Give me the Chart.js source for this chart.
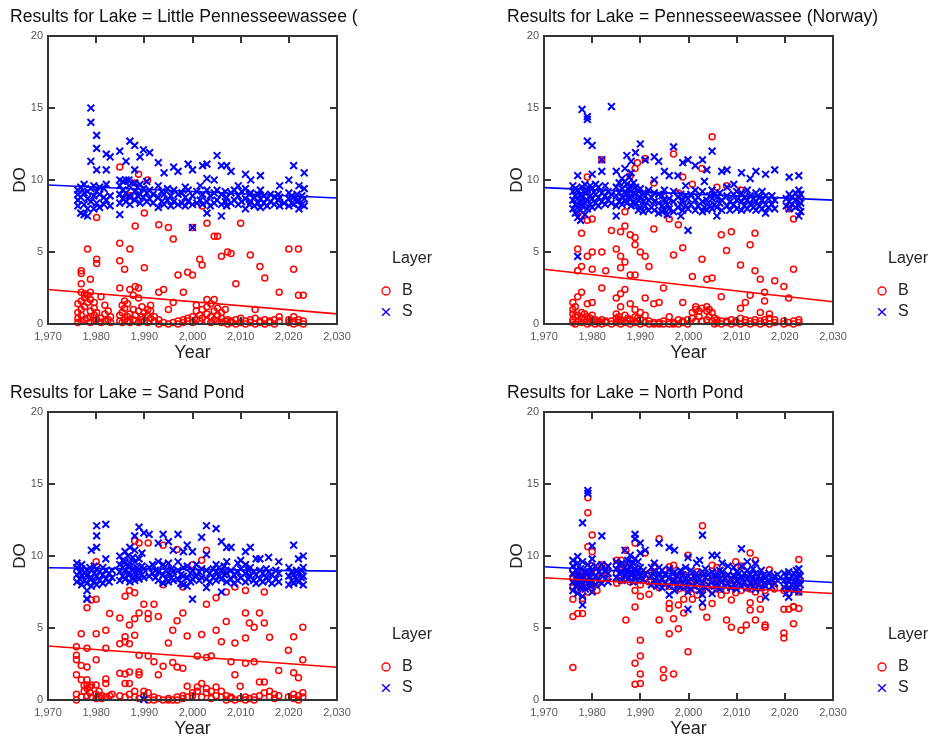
<!DOCTYPE html>
<html><head><meta charset="utf-8">
<script src="https://cdn.jsdelivr.net/npm/chart.js@4.4.1/dist/chart.umd.min.js"></script>
<style>
html,body{margin:0;padding:0;background:#fff;}
#wrap{position:relative;width:930px;height:738px;overflow:hidden;background:#fff;}
canvas{position:absolute;}
</style></head><body>
<div id="wrap">
<canvas id="c0" width="465" height="376" style="left:0;top:0;width:465px;height:376px"></canvas>
<canvas id="c1" width="465" height="376" style="left:465px;top:0;width:465px;height:376px"></canvas>
<canvas id="c2" width="465" height="364" style="left:0;top:376px;width:465px;height:364px"></canvas>
<canvas id="c3" width="465" height="364" style="left:465px;top:376px;width:465px;height:364px"></canvas>
</div>
<script>
// ---------- DATA ----------
const lakes = ["Little Pennesseewassee (", "Pennesseewassee (Norway)", "Sand Pond", "North Pond"];
const layers = ["B", "S"];
const yearTicks = [1970, 1980, 1990, 2000, 2010, 2020, 2030];
const doTicks = [0, 5, 10, 15, 20];
// trend line values at [1970, 2030]
const trendYears = [1970, 2030];
const trendB = [[2.4, 0.7], [3.8, 1.55], [3.75, 2.27], [8.49, 7.4]];
const trendS = [[9.65, 8.75], [9.47, 8.6], [9.18, 8.95], [9.25, 8.16]];

// each group: [year, DO, DO, ...]
const S_LittlePenn = [
[1976.2,8.6,9.0,9.3,8.2],[1976.8,7.7,8.8,9.5],[1977.5,7.6,8.3,9.1,9.7],[1978.2,7.5,8.0,8.7,9.2],
[1978.9,8.5,9.4,11.3,14.0,15.0],[1979.5,8.0,8.9,9.6],[1980.1,8.4,9.2,10.7,12.2,13.1],[1980.7,8.1,9.0,9.5],
[1981.6,8.3,8.8,9.4],[1982.1,8.6,9.7,10.7,11.8],[1982.9,8.2,8.9,11.6],[1984.9,7.6,8.4,9.0,9.6,10.0,12.0],
[1985.5,8.7,9.3,9.9],[1986.2,8.5,9.1,10.0,11.3],[1986.8,8.9,9.6,10.0],[1987.0,8.3,8.8,12.7],
[1988.0,8.6,9.2,9.8,10.7,12.4],[1988.6,8.9,9.5],[1989.1,8.4,9.0,9.7,11.6],[1989.8,8.8,9.4,12.1],
[1990.5,8.5,9.1,9.9],[1991.1,8.7,9.3,11.9],[1991.8,8.4,9.0],[1992.9,8.1,8.8,9.6,11.2],[1993.6,8.5,9.2],
[1994.1,8.3,9.0,10.5],[1994.8,8.6,9.4],[1995.5,8.2,8.9],[1996.1,8.5,9.3,10.9],[1997.0,8.3,9.0,10.6],
[1997.8,8.4,9.1],[1998.5,8.2,8.8,9.5],[1999.1,8.5,9.3,11.1],[2000.0,6.7,8.3,8.9,10.7],[2000.9,8.4,9.2],
[2001.6,8.6,9.6],[2002.1,8.3,9.0,11.0],[2003.0,7.7,8.5,9.3,10.1,11.1],[2003.7,8.2,8.9],[2004.5,8.4,9.1,10.0],
[2005.1,8.6,9.3,11.7],[2006.0,7.5,8.3,9.0,11.0],[2006.8,8.5,9.2],[2007.1,8.2,8.8,11.0],[2008.0,8.4,9.1,10.6],
[2008.7,8.6,9.3],[2009.5,8.3,8.9,9.6],[2010.2,8.5,9.2],[2011.0,8.0,8.7,9.4,10.4],[2011.8,8.3,9.0],
[2012.1,8.5,9.1,10.0],[2012.8,8.2,8.8],[2013.6,8.4,9.0],[2014.1,8.1,8.7,9.3,10.3],[2014.8,8.4,8.9],
[2015.5,8.2,8.7],[2016.2,8.5,9.0],[2017.0,8.3,8.8],[2017.8,8.6,9.0],[2018.1,8.2,8.8,9.6],[2019.0,8.4],
[2020.0,8.2,8.7,9.1,10.0],[2020.6,8.4,8.9],[2021.0,8.3,8.8,11.0],[2021.7,8.5,9.0],[2022.1,8.0,8.6,9.6],
[2022.7,8.3,8.9],[2023.2,8.2,8.7,9.4,10.5]
];
const B_LittlePenn = [
[1976.2,0.1,0.4,0.8,1.4],[1976.9,0.2,0.6,1.0,1.6,2.2,2.8,3.5,3.7],[1977.6,0.3,1.2,1.8,2.1],[1978.2,0.4,1.5,2.0,5.2],
[1978.8,0.1,0.5,0.9,1.7,2.2,3.1],[1979.6,0.2,0.6,1.1,1.5],[1980.1,0.3,0.8,4.2,4.5,7.4],[1981.0,0.1,0.4,1.9],
[1981.8,0.2,0.7,1.3],[1982.5,0.3,0.9],[1983.0,0.1,0.5],[1984.9,0.2,0.6,2.5,4.4,5.6,10.9],[1985.4,0.1,0.8,1.3],
[1985.9,0.3,1.1,1.6,3.8],[1986.5,0.2,0.5,1.4],[1987.0,0.1,0.7,2.4,5.2,8.9],[1987.7,0.3,1.0,2.0],
[1988.1,0.2,0.6,2.6,6.8,9.8],[1988.8,0.1,0.9,1.8,2.5,10.4],[1989.5,0.3,0.5,1.2],[1990.0,0.2,0.8,3.9,7.7],
[1990.7,0.1,0.6,1.0,10.0],[1991.3,0.4,0.9,1.3],[1992.1,0.2,0.5],[1993.0,0.0,0.3,2.2,6.9],[1994.0,0.1,2.4],
[1995.0,0.0,1.0,6.7],[1996.0,0.1,1.5,5.9],[1997.0,0.0,0.2,3.4],[1998.1,0.1,0.3,2.2],[1999.0,0.2,0.4,3.6],
[2000.0,0.1,0.5,3.4,6.7],[2000.8,0.3,0.9,1.3],[2001.5,0.2,0.6,4.5],[2002.0,0.4,1.0,4.1,8.2],
[2003.0,0.2,0.7,1.2,1.7,7.0],[2003.8,0.1,0.5,1.4],[2004.5,0.3,0.9,1.7,6.1],[2005.2,0.2,0.6,1.1,6.1],
[2006.0,0.1,0.4,0.8,4.7],[2006.8,0.2,1.0],[2007.3,0.0,0.3,5.0],[2008.0,0.1,0.2,4.9],[2009.0,0.0,0.3,2.8],
[2010.0,0.1,0.4,7.0],[2011.0,0.0,0.2],[2012.0,0.1,0.3,4.8],[2013.0,0.0,0.4,1.0],[2014.0,0.1,0.2,4.0],
[2015.0,0.0,0.3,3.2],[2016.0,0.1,0.2],[2017.0,0.0,0.3],[2018.0,0.2,0.5,2.2],[2020.0,0.1,0.3,5.2],
[2021.0,0.0,0.2,0.5,3.8],[2022.0,0.1,0.3,2.0,5.2],[2023.0,0.0,0.2,2.0]
];
const S_Norway = [
[1976.0,8.0,8.6,9.2,9.6],[1976.5,7.7,8.3,8.9,9.4],[1977.0,4.7,7.4,8.1,8.7,9.3,10.3],[1977.6,7.2,7.9,8.5,9.0],
[1977.9,8.2,8.8,9.5,14.9],[1978.5,7.6,8.4,9.1,9.7],[1979.0,8.0,8.6,9.3,12.7,14.2,14.4],[1979.6,8.3,8.9,9.6],
[1980.0,8.1,8.7,9.4,10.4,12.4],[1980.7,8.4,9.0,9.7],[1981.3,8.2,8.8,9.5],[1982.0,8.5,9.1,10.6,11.4],
[1982.7,8.3,8.9,9.6],[1983.3,8.6,9.2],[1984.0,8.4,9.0,15.1],[1985.0,7.5,8.2,8.9,9.5,10.6],[1985.6,8.5,9.1,9.8],
[1986.2,8.3,8.8,9.4,10.1],[1986.8,8.6,9.2,9.9,10.8],[1987.2,8.4,9.0,9.7,11.7],[1987.7,8.7,9.3,10.2],
[1988.1,8.2,8.9,9.6,10.5,11.3],[1988.6,8.5,9.1,9.8],[1989.0,8.3,9.0,9.5,11.9],[1989.6,7.9,8.6,9.2],
[1990.0,8.1,8.8,9.4,12.5],[1990.6,7.8,8.5,9.1],[1991.0,8.2,8.9,11.4],[1991.7,7.9,8.6,9.3],[1992.3,8.1,8.8],
[1992.9,7.9,8.5,9.1,10.0,11.6],[1993.8,7.7,8.4,9.0,11.3],[1994.5,7.8,8.2,8.9],[1995.0,7.9,8.6,9.3,10.6],
[1995.6,7.6,8.3],[1996.0,8.0,8.7,10.3],[1996.9,7.8,8.5,9.2,12.3],[1997.8,8.1,8.8,10.3],[1998.4,7.5,8.3,9.0],
[1998.8,7.9,8.6,11.2],[1999.4,8.2,8.9,9.6],[1999.9,6.5,8.0,8.7,11.4],[2000.5,8.3,9.0],[2001.4,7.9,8.6,9.3,11.0],
[2002.0,8.2,8.8],[2002.9,7.8,8.5,9.2,11.4],[2003.3,8.1,9.9],[2003.8,7.9,8.6,10.7],[2004.4,8.2,8.9],
[2004.9,8.0,8.7,9.3,12.0],[2005.4,8.3,9.0],[2005.9,7.5,8.1,8.8],[2006.5,8.4,9.1],[2006.9,7.9,8.6,10.6],
[2008.0,8.2,8.9,9.5,10.7],[2008.6,7.9,8.5],[2009.4,8.3,9.0,9.7],[2010.0,8.0,8.6,9.2],[2011.0,7.9,8.5,9.1,10.5],
[2011.6,8.2,8.8],[2012.2,8.0,8.6,9.3],[2012.8,8.3,8.9,10.1],[2013.5,8.1,8.7],[2014.0,7.9,8.5,9.1,10.6],
[2014.7,8.2,8.8],[2015.3,8.0,8.6,9.2],[2016.0,7.7,8.3,8.9,10.4],[2016.6,8.1,8.7],[2017.3,8.3,8.9],
[2017.9,8.0,8.6,10.7],[2020.3,8.2,8.7],[2020.9,8.0,8.5,9.0,10.2],[2021.5,8.3,8.8],[2022.2,8.1,8.6,9.1],
[2022.9,7.5,8.2,8.8,9.3,10.3],[2023.3,7.8,8.4,9.0]
];
const B_Norway = [
[1976.0,0.1,0.3,0.7,1.0,1.5],[1976.5,0.0,0.5,1.2],[1977.0,0.2,0.6,1.9,3.7,5.2],[1977.8,0.1,0.4,0.8,2.2,4.0,6.3,7.5],
[1978.4,0.3,0.7],[1979.0,0.0,0.2,0.5,1.4,4.7,7.2,10.2],[1979.6,0.1,0.4],[1980.0,0.2,0.6,1.5,3.8,5.0,7.3],
[1980.6,0.0,0.3],[1981.3,0.1,0.2],[1982.0,0.0,0.3,2.5,5.0,11.4],[1982.8,0.1,0.2,3.7],[1984.0,0.0,0.2,6.5],
[1985.0,0.1,0.4,0.7,1.8,5.2],[1985.5,0.2,0.5],[1985.9,0.0,0.3,1.2,2.1,3.9,4.7,6.4],[1986.8,0.1,0.6,2.4,4.3,6.8,7.8],
[1987.4,0.2,0.4],[1987.9,0.0,0.3,1.4,3.4,6.2,10.3],[1988.9,0.1,0.5,1.0,3.4,5.5,6.0,10.8],[1989.4,0.2,0.4,11.2],
[1990.0,0.0,0.3,0.8,5.0],[1991.0,0.1,0.6,1.8,4.7,11.5],[1991.8,0.0,0.2,4.0],[1992.8,0.0,0.1,1.4,6.6,9.8],
[1993.9,0.0,0.1,1.5],[1994.8,0.0,0.2,2.5,8.9],[1996.0,0.0,0.5,7.3],[1996.9,0.0,0.1,4.8,11.8],[1997.9,0.0,0.3,6.9,9.1],
[1998.8,0.1,0.2,1.5,5.3,10.2],[1999.8,0.0,0.3],[2000.8,0.4,0.8,3.3,9.7],[2001.5,0.2,1.0,1.2],[2002.2,0.5,0.9],
[2002.8,0.2,1.1,4.5,10.8],[2003.8,0.3,0.9,1.2,3.1],[2004.3,0.5,1.0],[2004.9,0.2,0.8,3.2,13.0],[2005.4,0.0,0.4],
[2005.9,0.1,0.3,9.5],[2006.8,0.0,0.2,1.9,6.2],[2007.9,0.1,0.2,5.1,9.6],[2008.9,0.0,0.3,6.4],[2009.8,0.1,0.2],
[2010.8,0.0,0.4,1.1,4.1,9.3],[2011.8,0.1,0.3,1.5],[2012.8,0.0,0.2,2.0,5.5],[2013.8,0.1,0.3,3.7,6.3],
[2014.9,0.0,0.2,0.8,3.1],[2015.8,0.1,0.3,1.6,2.2],[2016.8,0.0,0.4,0.7],[2017.9,0.1,0.3,3.0],[2019.8,0.0,0.2,2.6],
[2020.8,0.1,1.8,8.0],[2021.8,0.0,0.2,3.8,7.3],[2022.9,0.1,0.3,9.0]
];
const S_Sand = [
[1976.0,8.2,8.7,9.2,9.5],[1976.6,8.4,8.9],[1977.0,8.0,8.6,9.1,9.4],[1977.6,8.3,8.8],[1978.1,7.0,7.05,7.6,8.1,8.7,9.0],
[1978.7,8.4,9.2],[1979.0,7.9,8.5,9.0,10.4],[1979.6,8.2,8.8,9.3],[1980.1,8.0,8.6,9.1,10.6,11.4,12.1],[1980.7,8.3,8.9],
[1981.4,8.1,8.7,9.2],[1982.0,8.4,9.0,9.8,12.2],[1982.7,8.2,8.8],[1983.3,8.5,9.0],[1984.9,8.3,8.9,9.4,10.0],
[1985.5,8.6,9.2,9.7],[1986.0,8.4,9.0,9.6,10.3],[1986.6,8.7,9.3,10.0],[1987.0,8.2,8.8,9.5,10.6],[1987.6,8.5,9.1,9.9],
[1988.0,8.3,8.9,9.6,10.4,11.4],[1988.5,8.6,9.2],[1988.9,8.4,9.0,9.8,12.0],[1989.5,8.7,9.3,10.2],[1989.9,0.05,8.5,9.1,11.6],
[1991.0,8.6,9.2,11.5],[1991.7,8.8,9.4],[1992.3,8.5,9.0],[1992.9,8.3,8.9,9.6,10.9],[1993.9,8.1,8.7,9.4,11.5],
[1994.5,8.4,9.0],[1995.0,8.2,8.8,9.5,11.0],[1995.6,8.5,9.1],[1996.0,8.3,8.9,10.4],[1997.0,8.4,9.0,9.6,11.5],
[1997.6,8.1,8.7],[1998.1,8.0,8.6,9.2,10.3],[1998.9,7.9,8.5,9.3,10.75],[1999.6,8.2,8.8],[2000.0,7.0,8.4,9.0,10.3],
[2000.8,8.6,9.4],[2001.4,8.3,8.9],[2001.9,8.5,9.1,11.3],[2002.9,7.8,8.4,9.0,10.1,12.1],[2003.6,8.2,8.8],
[2004.3,8.5,9.1],[2004.9,8.3,8.9,9.4,11.9],[2005.5,8.6,9.2],[2006.0,7.5,8.4,9.0,11.0],[2006.6,8.7,9.3],
[2007.1,8.2,8.8,9.6,10.6],[2008.0,8.4,9.0,10.6],[2008.6,8.1,8.7],[2009.4,8.3,8.9,9.5],[2010.0,8.5,9.1,9.7],
[2011.0,8.2,8.8,9.4,10.3],[2011.6,8.4,9.0],[2012.0,8.6,9.2,10.6],[2012.7,8.3,8.9],[2013.2,8.1,8.7,9.8],
[2014.0,8.4,9.0,9.8],[2014.6,8.2,8.8],[2015.3,8.5,9.1],[2015.8,8.3,8.9,9.9],[2016.5,8.1,8.7],[2017.3,8.4,9.0],
[2017.9,8.2,8.8,9.6],[2020.0,8.0,8.6,9.2],[2020.6,8.3,8.9],[2021.0,8.1,8.7,10.75],[2021.6,8.4,9.0],
[2022.0,8.2,8.8,9.8],[2022.6,8.5,9.0],[2023.0,8.0,8.6,9.2,10.0]
];
const B_Sand = [
[1975.9,0.0,0.4,1.75,2.8,3.1,3.7],[1976.9,0.2,1.4,2.4,4.6],[1977.5,0.6,1.0],[1978.1,0.3,0.8,1.05,1.4,2.3,3.6,6.4],
[1978.7,0.5,0.9],[1979.0,0.2,1.05,6.95],[1980.0,0.1,0.4,1.05,2.8,4.6,7.0,9.6],[1980.6,0.2,0.6],[1981.2,0.1,0.3],
[1982.0,0.2,1.15,1.45,3.6,4.85],[1982.8,0.3,6.0],[1983.3,0.4],[1984.9,0.3,1.85,3.9,5.7],
[1986.0,0.2,1.15,1.8,4.05,4.4,7.2],[1986.9,0.4,1.15,1.95,3.9,5.2,7.6],[1988.0,0.2,0.6,4.5,5.65,7.45,11.05],
[1988.9,0.1,1.75,1.95,3.1,6.05,10.9],[1989.9,0.3,0.6,6.65],[1990.8,0.0,0.5,3.05,5.65,6.0,10.9],
[1992.0,0.0,0.2,2.65,6.65],[1992.9,0.1,1.75,5.8],[1993.9,0.0,2.35,8.0,10.75],[1995.0,0.0,0.1,3.95],
[1995.9,0.0,2.6,4.85],[1996.8,0.0,0.2,2.3,5.5,10.45],[1998.0,0.1,0.3,2.2,6.05,7.85],[1998.9,0.2,0.95,4.45],
[2000.0,0.3,0.5,9.4],[2001.0,0.6,0.9,3.05],[2001.9,0.2,1.15,4.55,9.7],[2002.9,0.5,0.8,2.95,6.65,10.4],
[2003.9,0.1,0.6,3.05],[2004.9,0.3,0.9,4.85,7.1],[2006.0,0.2,0.6,4.05],[2007.0,0.0,0.3,5.45,7.5],
[2008.0,0.1,0.2,2.65],[2008.8,0.0,1.75,3.95,7.85],[2009.9,0.1,0.95],[2011.0,0.0,0.2,2.55,4.3,6.05,7.6],
[2011.8,0.1,5.35],[2012.8,0.0,0.2,2.65,5.05],[2013.9,0.3,1.25,6.05],[2014.9,0.5,1.25,5.35,7.5],
[2016.0,0.2,0.6,4.35],[2017.0,0.1,0.4],[2017.9,0.3,2.05],[2019.9,0.2,3.45],[2021.0,0.1,0.4,1.9,4.4],
[2022.0,0.0,0.3,1.55],[2022.9,0.2,0.5,2.8,5.05]
];
const S_North = [
[1976.0,7.6,8.2,8.8,9.3,9.7],[1976.6,7.9,8.5,9.0],[1977.0,7.4,8.1,8.7,9.5,9.95],[1977.6,7.8,8.4,9.1],
[1978.0,6.6,7.2,8.0,8.6,9.6,12.3],[1978.6,7.7,8.3,8.9],[1979.1,8.1,8.8,9.4,14.35,14.55],[1979.6,7.9,8.5,9.2],
[1980.0,7.5,8.2,8.9,9.8,10.7],[1980.7,8.0,8.6,9.3],[1981.4,8.3,8.9],[1982.0,8.1,8.7,9.4,11.4],[1982.7,8.4,9.0],
[1983.3,8.2,8.8,9.3],[1985.0,8.5,9.1,9.6],[1985.6,8.8,9.4],[1986.2,8.3,8.9,9.5],[1986.8,8.6,9.2,10.4],
[1987.4,8.4,9.0,9.7],[1987.9,8.7,9.3,10.05],[1988.5,8.2,8.8,9.5],[1988.9,8.5,9.1,9.8,11.2,11.5],[1989.5,8.3,8.9,9.6],
[1990.0,8.6,9.2,10.2,10.9],[1990.6,8.4,9.0],[1991.0,8.7,10.4],[1992.3,8.0,8.6,9.2],[1992.9,8.3,8.9,9.5],
[1993.4,7.9,8.5],[1993.9,8.2,8.8,9.2,10.9],[1994.5,7.8,8.4,9.0],[1995.1,8.1,8.7],[1996.0,7.3,7.9,8.5,9.1,10.6],
[1996.6,8.2,8.8],[1997.1,7.6,8.3,8.9,10.4],[1997.7,8.0,8.6],[1998.3,7.8,8.4,9.0],[1998.8,8.1,8.7],
[1999.4,7.9,8.5,9.2],[1999.9,6.3,7.5,8.2,9.9],[2000.5,7.7,8.4,9.0],[2001.1,7.9,8.6],[2001.7,8.2,8.8,9.5],
[2002.3,7.6,8.4,9.7],[2002.9,6.75,7.3,8.1,8.9,11.45],[2003.5,7.8,8.5,9.1],[2004.1,8.0,8.7],[2004.9,7.4,8.2,8.9,10.05],
[2005.4,7.9,8.6],[2005.9,8.1,8.8,10.05],[2006.5,7.7,8.4,9.0],[2007.0,8.2,8.9,9.5],[2007.6,7.9,8.5],
[2008.2,8.1,8.7,9.3],[2008.8,7.8,8.4],[2009.4,8.0,8.6,9.2],[2010.0,7.7,8.3,8.9],[2010.5,8.1,8.8],
[2011.0,7.9,8.5,9.3,10.5],[2011.6,8.2,8.8],[2012.2,7.8,8.4,9.0,9.6],[2012.8,8.1,8.7],[2013.4,7.9,8.5,9.1],
[2013.9,7.7,8.2,8.8,9.5],[2014.5,8.0,8.6],[2015.1,7.8,8.4,9.0],[2015.7,8.1,8.7],[2016.0,7.15,7.9,8.5],
[2016.7,8.2,8.8],[2017.3,7.9,8.4],[2017.9,8.1,8.6],[2018.5,8.3,8.7],[2019.9,7.8,8.3,8.8],[2020.3,7.4,8.0,8.6],
[2020.8,7.15,7.7,8.3,8.9],[2021.4,8.0,8.6],[2021.9,7.6,8.2,8.8],[2022.4,7.9,8.5,9.0],[2022.9,7.5,8.1,8.7,9.1],
[2023.2,8.0,8.6]
];
const B_North = [
[1976.0,2.25,5.8,7.0,7.8,8.4,9.0],[1976.6,8.1,8.7],[1977.0,6.0,7.6,8.3,8.9],[1977.6,8.0,8.6],[1978.0,6.0,7.05,7.9,8.5],
[1978.6,8.2,8.8],[1979.1,7.5,8.4,10.65,13.0,14.05],[1979.6,8.0,8.9],[1980.0,7.8,8.6,9.3,10.3,11.45],
[1981.0,7.6,8.2,8.8],[1982.0,8.4,9.0,9.4],[1983.0,8.6,9.2],[1985.1,8.1,8.8,9.7],[1986.0,8.3,9.0,9.7],
[1987.0,5.55,8.5,9.2,10.4],[1987.9,8.2,8.8,9.5],[1988.9,1.1,2.55,6.45,7.6,8.3,9.0,10.9],
[1990.0,1.15,1.8,3.05,4.15,7.2,8.0,8.6],[1991.0,8.4,10.2],[1991.8,7.35,8.2,8.8],[1992.9,8.0,8.6,9.3],
[1993.9,5.55,7.8,8.4,11.2],[1994.8,1.55,2.1,8.1,8.7],[1996.0,4.6,6.35,6.7,7.9,9.25],[1996.9,1.8,5.65,8.3,9.35],
[1997.9,4.95,6.6,7.7,8.5],[1999.0,6.05,7.0,8.0,8.7],[1999.9,3.35,7.6,8.3,10.05],[2000.8,7.0,7.9,8.6],
[2001.8,7.3,8.1,8.9],[2002.9,6.45,7.7,8.5,12.1],[2003.8,5.75,7.9,8.6],[2004.9,6.7,7.6,8.3,9.35],
[2005.9,7.8,8.5,9.2],[2006.8,7.3,8.0,8.7],[2007.9,5.55,7.6,8.4],[2008.9,5.05,6.95,7.9,8.6],[2009.8,7.45,8.2,9.6],
[2010.9,4.85,7.6,8.3,9.3],[2012.0,5.2,7.8,8.5],[2012.8,6.25,6.75,7.7,10.2],[2013.9,5.55,7.5,8.2,9.7],
[2014.9,6.3,7.0,7.8,8.5],[2015.9,5.05,5.2,7.6,8.3],[2016.8,7.9,9.05],[2017.8,7.7,8.3],[2019.8,4.3,4.65,6.3,7.6],
[2020.8,6.3,7.4,8.0],[2021.8,5.3,6.45,6.5,7.7],[2022.9,6.35,7.5,8.2,9.75]
];
const seriesB = [B_LittlePenn, B_Norway, B_Sand, B_North];
const seriesS = [S_LittlePenn, S_Norway, S_Sand, S_North];

// ---------- RENDER ----------
const RED = '#ff0000', BLUE = '#0000ff';
const FONT = '"Liberation Sans", Arial, Helvetica, sans-serif';
Chart.defaults.font.family = FONT;

function expand(groups) {
  const out = [];
  groups.forEach(g => { for (let i = 1; i < g.length; i++) out.push({x: g[0], y: g[i]}); });
  return out;
}

const framePlugin = {
  id: 'frameAndLegend',
  afterDraw(chart) {
    const {ctx, chartArea: a, scales} = chart;
    const xs = scales.x, ys = scales.y;
    const idx = chart.options.plugins.frameAndLegend.idx;
    ctx.save();
    // panel title
    ctx.fillStyle = '#111';
    ctx.font = '17.6px ' + FONT;
    ctx.textBaseline = 'middle';
    ctx.textAlign = 'left';
    ctx.fillText('Results for Lake = ' + lakes[idx], chart.options.layout.padding.left, 17);
    // frame + inward ticks
    ctx.strokeStyle = '#333';
    ctx.lineWidth = 2;
    ctx.strokeRect(a.left, a.top, a.right - a.left, a.bottom - a.top);
    ctx.beginPath();
    yearTicks.slice(1, -1).forEach(v => {
      const px = Math.round(xs.getPixelForValue(v));
      ctx.moveTo(px, a.bottom); ctx.lineTo(px, a.bottom - 7);
      ctx.moveTo(px, a.top); ctx.lineTo(px, a.top + 7);
    });
    doTicks.slice(1, -1).forEach(v => {
      const py = Math.round(ys.getPixelForValue(v));
      ctx.moveTo(a.left, py); ctx.lineTo(a.left + 7, py);
      ctx.moveTo(a.right, py); ctx.lineTo(a.right - 7, py);
    });
    ctx.stroke();
    // legend
    const lx = a.right + 49, tx = a.right + 65;
    ctx.fillStyle = '#222';
    ctx.font = '16px ' + FONT;
    ctx.fillText('Layer', a.right + 55, a.top + 223);
    ctx.fillText(layers[0], tx, a.top + 255);
    ctx.fillText(layers[1], tx, a.top + 276);
    ctx.lineWidth = 1.4;
    ctx.strokeStyle = RED;
    ctx.beginPath(); ctx.arc(lx, a.top + 255, 4, 0, Math.PI * 2); ctx.stroke();
    ctx.strokeStyle = BLUE;
    ctx.beginPath();
    const sy = a.top + 276, d = 3.8;
    ctx.moveTo(lx - d, sy - d); ctx.lineTo(lx + d, sy + d);
    ctx.moveTo(lx - d, sy + d); ctx.lineTo(lx + d, sy - d);
    ctx.stroke();
    ctx.restore();
  }
};

function makeChart(idx) {
  const right = idx % 2 === 1;
  const top = idx < 2;
  const canvasH = top ? 376 : 364;
  const padLeft = right ? 42 : 10;
  const yW = right ? 37 : 38;
  const padRight = right ? 97 : 128;
  const xH = 40;
  const padBottom = canvasH - 324 - xH;
  new Chart(document.getElementById('c' + idx), {
    type: 'scatter',
    data: {
      datasets: [
        { label: 'S trend', type: 'line', data: trendYears.map((x, i) => ({x, y: trendS[idx][i]})),
          borderColor: BLUE, borderWidth: 1.6, pointRadius: 0, fill: false, order: 0, clip: false },
        { label: 'B trend', type: 'line', data: trendYears.map((x, i) => ({x, y: trendB[idx][i]})),
          borderColor: RED, borderWidth: 1.6, pointRadius: 0, fill: false, order: 0, clip: false },
        { label: layers[1], data: expand(seriesS[idx]), pointStyle: 'crossRot', radius: 4.8,
          borderColor: BLUE, backgroundColor: BLUE, borderWidth: 2, order: 1, clip: false },
        { label: layers[0], data: expand(seriesB[idx]), pointStyle: 'circle', radius: 3,
          borderColor: RED, backgroundColor: 'rgba(0,0,0,0)', borderWidth: 1.5, order: 2, clip: false }
      ]
    },
    options: {
      responsive: false,
      animation: false,
      devicePixelRatio: 1,
      events: [],
      layout: { padding: { left: padLeft, right: padRight, top: 36, bottom: padBottom } },
      plugins: {
        legend: { display: false },
        tooltip: { enabled: false },
        title: { display: false },
        frameAndLegend: { idx: idx }
      },
      scales: {
        x: {
          type: 'linear', min: yearTicks[0], max: yearTicks[yearTicks.length - 1],
          afterFit: s => { s.height = xH; },
          afterBuildTicks: s => { s.ticks = yearTicks.map(v => ({value: v})); },
          grid: { display: false, drawTicks: false },
          border: { display: false },
          ticks: { color: '#555', font: { size: 11 }, padding: 6, maxRotation: 0, autoSkip: false,
                   callback: v => v.toLocaleString('en-US') },
          title: { display: true, text: 'Year', color: '#222', font: { size: 18 }, padding: { top: 0, bottom: 0 } }
        },
        y: {
          type: 'linear', min: doTicks[0], max: doTicks[doTicks.length - 1],
          afterFit: s => { s.width = yW; },
          afterBuildTicks: s => { s.ticks = doTicks.map(v => ({value: v})); },
          grid: { display: false, drawTicks: false },
          border: { display: false },
          ticks: { color: '#555', font: { size: 11 }, padding: 5 },
          title: { display: true, text: 'DO', color: '#222', font: { size: 17 }, padding: { top: 0, bottom: 0 } }
        }
      }
    },
    plugins: [framePlugin]
  });
}
[0, 1, 2, 3].forEach(makeChart);
</script>
</body></html>
